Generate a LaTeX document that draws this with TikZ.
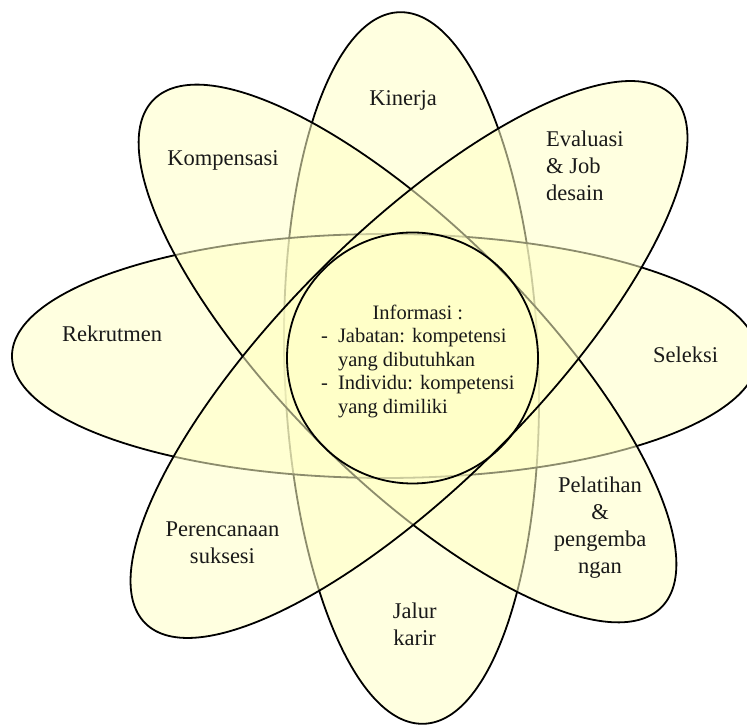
\documentclass[tikz,border=0pt]{standalone}
\usepackage{fontspec}
\setmainfont{Liberation Serif}
\definecolor{petalfill}{RGB}{255,255,198}
\definecolor{txt}{RGB}{25,25,25}
\tikzset{
  petal/.style={fill=petalfill, fill opacity=0.55, draw=black, line width=1.8pt},
  hub/.style={draw=black, line width=1.8pt},
  lbl/.style={text=txt, inner sep=0pt, font=\fontsize{22.5}{27}\selectfont},
  infolbl/.style={text=txt, inner sep=0pt, font=\fontsize{20.5}{23.5}\selectfont}
}
\begin{document}
\begin{tikzpicture}[x=1pt,y=1pt]
\useasboundingbox (0,0) rectangle (747,725);
\clip (0,0) rectangle (747,725);
% centres
\coordinate (cv) at (411.5,357);
\coordinate (ch) at (385,369);
\coordinate (cd) at (407.5,371.5);
\coordinate (ca) at (409,365.5);
\coordinate (cc) at (412.5,367);
% petals
\draw[petal, rotate around={2:(cv)}] (cv) ellipse [x radius=127, y radius=356];
\draw[petal] (ch) ellipse [x radius=373, y radius=122];
\draw[petal, rotate around={-45:(cd)}] (cd) ellipse [x radius=359, y radius=125];
\draw[petal, rotate around={45:(ca)}] (ca) ellipse [x radius=373, y radius=126];
% hub
\draw[hub] (cc) circle [radius=125.5];
% labels
\node[lbl, anchor=base] (kinerja) at (403,619) {Kinerja};
\node[lbl, anchor=base] (kompensasi) at (223,559.3) {Kompensasi};
\node[lbl, anchor=base] (rekrutmen) at (112,383.3) {Rekrutmen};
\node[lbl, anchor=base] (seleksi) at (685.5,362) {Seleksi};
\node[lbl, anchor=base west] (evaluasi) at (546,578.3)
  {\begin{tabular}[t]{@{}l@{}}Evaluasi\\ \& Job\\ desain\end{tabular}};
\node[lbl, anchor=base] (pelatihan) at (600,232.3)
  {\begin{tabular}[t]{@{}c@{}}Pelatihan\\ \&\\ pengemba\\ ngan\end{tabular}};
\node[lbl, anchor=base] (perencanaan) at (222.5,188.3)
  {\begin{tabular}[t]{@{}c@{}}Perencanaan\\ suksesi\end{tabular}};
\node[lbl, anchor=base] (jalur) at (414.7,106)
  {\begin{tabular}[t]{@{}c@{}}Jalur\\ karir\end{tabular}};
\node[infolbl, anchor=base west] (info) at (321,405.7)
  {\begin{tabular}[t]{@{}l@{\hspace{10pt}}l@{}}
   \multicolumn{2}{c}{Informasi :}\\
   - & Jabatan: kompetensi\\
     & yang dibutuhkan\\
   - & Individu: kompetensi\\
     & yang dimiliki
   \end{tabular}};
\end{tikzpicture}
\end{document}
